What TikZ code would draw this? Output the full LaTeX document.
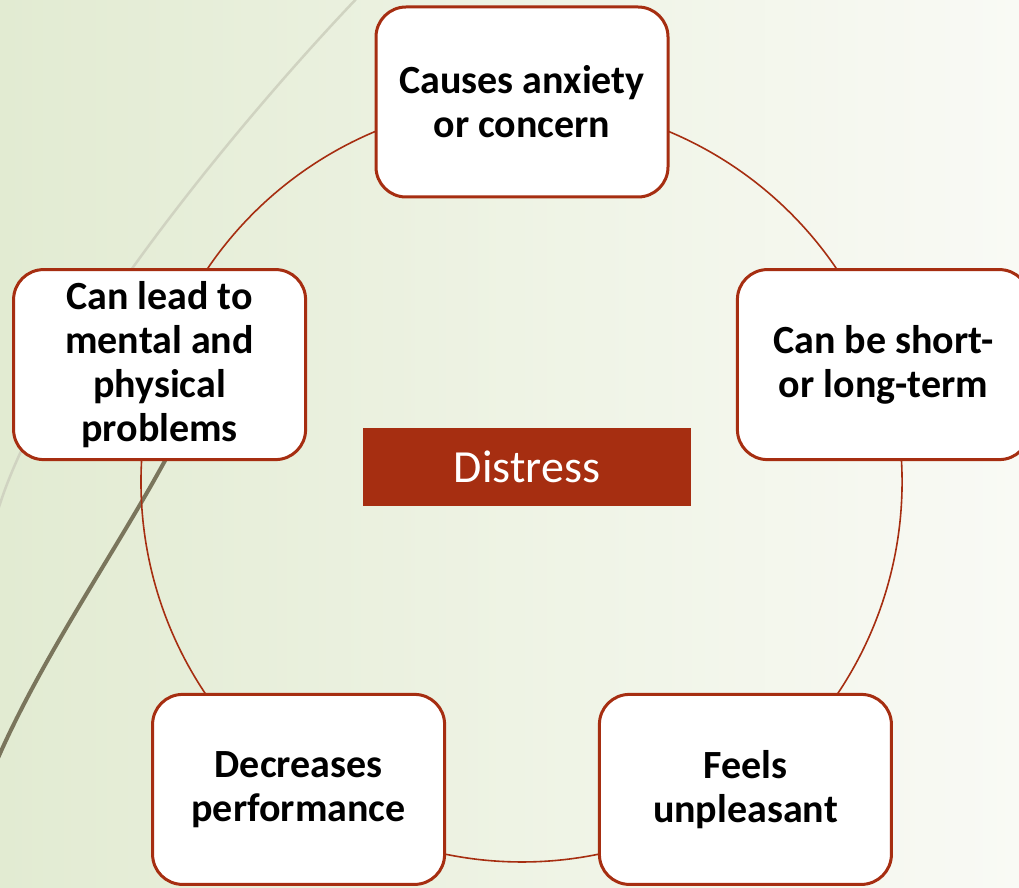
\documentclass[tikz,border=0pt]{standalone}
\usepackage{fontspec}
\setmainfont{Carlito}
\pgfdeclarelayer{bg}
\pgfdeclarelayer{ringlayer}
\pgfsetlayers{bg,ringlayer,main}
\definecolor{rust}{RGB}{166,46,17}
\definecolor{bgleft}{RGB}{226,235,210}
\definecolor{bgmid}{RGB}{238,243,228}
\definecolor{bgright}{RGB}{249,250,245}
\definecolor{olivecurve}{RGB}{122,117,92}
\definecolor{palecurve}{RGB}{208,211,193}
\begin{document}
\begin{tikzpicture}[x=1pt,y=1pt,
  item/.style={draw=rust, line width=3pt, fill=white, rounded corners=30pt,
    minimum width=292pt, minimum height=190pt, align=center,
    font=\bfseries\fontsize{40}{44}\selectfont, inner sep=0pt},
  ring/.style={draw=rust, line width=1.6pt},
  hub/.style={fill=rust, text=white, minimum width=328pt, minimum height=78pt,
    font=\fontsize{46}{50}\selectfont, inner sep=0pt},
  deco/.style={line cap=round}
]
\useasboundingbox (0,0) rectangle (1019,887);
\clip (0,0) rectangle (1019,887);
\begin{pgfonlayer}{bg}
  \shade[left color=bgleft, right color=bgright, middle color=bgmid] (0,0) rectangle (1019,887);
  \draw[deco, draw=palecurve, line width=2.5pt] (360,892) .. controls (245,772) and (40,527) .. (-4,370);
  \draw[deco, draw=olivecurve, line width=4pt] (175,445) .. controls (120,340) and (40,230) .. (-8,115);
\end{pgfonlayer}

\node[item] (n1) at (522,785) {Causes anxiety\\or concern};
\node[item] (n2) at (883.4,522.4) {Can be short-\\or long-term};
\node[item] (n3) at (745.4,97.6) {Feels\\unpleasant};
\node[item] (n4) at (298.6,97.6) {Decreases\\performance};
\node[item] (n5) at (159.6,522.4) {Can lead to\\mental and\\physical\\problems};
\node[hub] (hub) at (527,420) {Distress};

\begin{pgfonlayer}{ringlayer}
  \draw[ring] (n1.center) arc[start angle=90, end angle=162, radius=380];
  \draw[ring] (n5.center) arc[start angle=162, end angle=234, radius=380];
  \draw[ring] (n4.center) arc[start angle=234, end angle=306, radius=380];
  \draw[ring] (n3.center) arc[start angle=306, end angle=378, radius=380];
  \draw[ring] (n2.center) arc[start angle=18, end angle=90, radius=380];
\end{pgfonlayer}
\end{tikzpicture}
\end{document}
